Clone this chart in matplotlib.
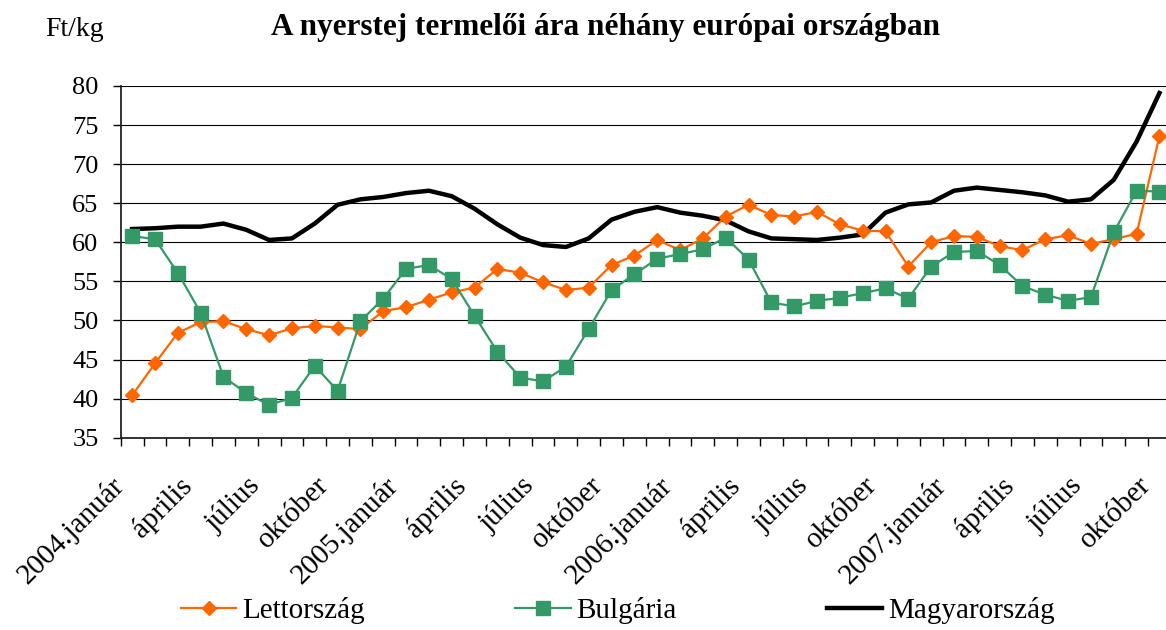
import matplotlib
matplotlib.use("Agg")
import matplotlib.pyplot as plt
from matplotlib.transforms import ScaledTranslation
import numpy as np

# ---- data ----
months = ["2004.január", "", "", "április", "", "", "július", "", "", "október", "", "",
          "2005.január", "", "", "április", "", "", "július", "", "", "október", "", "",
          "2006.január", "", "", "április", "", "", "július", "", "", "október", "", "",
          "2007.január", "", "", "április", "", "", "július", "", "", "október"]

lettorszag = [40.4, 44.5, 48.4, 49.8, 49.9, 48.9, 48.1, 49.0, 49.3, 49.1, 48.9, 51.2,
              51.7, 52.65, 53.6, 54.2, 56.6, 56.1, 54.9, 53.9, 54.2, 57.1, 58.3, 60.3,
              59.0, 60.5, 63.3, 64.8, 63.5, 63.3, 63.9, 62.3, 61.5, 61.4, 56.9, 60.0,
              60.8, 60.7, 59.5, 59.0, 60.4, 60.9, 59.8, 60.4, 61.1, 73.6]

bulgaria = [60.8, 60.4, 56.1, 51.0, 42.8, 40.7, 39.2, 40.1, 44.2, 41.0, 49.9, 52.8,
            56.6, 57.1, 55.3, 50.6, 46.0, 42.7, 42.2, 44.1, 48.9, 53.9, 55.9, 57.9,
            58.5, 59.1, 60.6, 57.8, 52.3, 51.8, 52.5, 52.9, 53.5, 54.1, 52.8, 56.9,
            58.75, 58.9, 57.1, 54.4, 53.3, 52.5, 53.0, 61.3, 66.6, 66.5]

magyarorszag = [61.7, 61.8, 62.0, 62.0, 62.4, 61.6, 60.3, 60.5, 62.4, 64.8, 65.5, 65.8,
                66.3, 66.6, 65.9, 64.3, 62.3, 60.6, 59.65, 59.4, 60.5, 62.9, 63.9, 64.5,
                63.8, 63.4, 62.8, 61.4, 60.5, 60.4, 60.3, 60.6, 61.0, 63.8, 64.85, 65.1,
                66.6, 67.0, 66.7, 66.4, 66.0, 65.2, 65.5, 68.0, 72.9, 79.1]

series_names = ["Lettország", "Bulgária", "Magyarország"]
title = "A nyerstej termelői ára néhány európai országban"
unit = "Ft/kg"
yticks = [35, 40, 45, 50, 55, 60, 65, 70, 75, 80]

# ---- style ----
plt.rcParams['font.family'] = ['Liberation Serif', 'DejaVu Serif']
ORANGE = "#FF6600"
GREEN = "#339966"

W, H = 1166, 630
fig = plt.figure(figsize=(W / 100, H / 100), dpi=100)
left_px, top_px, bottom_px = 120.7, 86.0, 437.7
cat_w = 22.83
n = len(months)
ax = fig.add_axes([left_px / W, (H - bottom_px) / H,
                   n * cat_w / W, (bottom_px - top_px) / H])

x = np.arange(n)
ax.plot(x, magyarorszag, color="black", lw=3.2, zorder=3, label=series_names[2],
        solid_joinstyle="round")
ax.plot(x, lettorszag, color=ORANGE, lw=1.6, marker="D", ms=7.2, mec=ORANGE,
        mfc=ORANGE, zorder=4, label=series_names[0])
ax.plot(x, bulgaria, color=GREEN, lw=1.6, marker="s", ms=10, mec=GREEN,
        mfc=GREEN, zorder=5, label=series_names[1])

ax.set_xlim(-0.5, n - 0.5)
ax.set_ylim(35, 80)
ax.set_yticks(yticks)
ax.yaxis.grid(True, color="black", lw=0.8)
ax.set_axisbelow(True)

for s in ["top", "right"]:
    ax.spines[s].set_visible(False)
for s in ["left", "bottom"]:
    ax.spines[s].set_linewidth(1.3)
    ax.spines[s].set_color("#222222")

ax.tick_params(axis="y", direction="out", length=6, width=1, pad=10, labelsize=19)

# x ticks: minor at category boundaries, major labels every 3rd category
major_pos = [i for i, m in enumerate(months) if m]
ax.set_xticks(major_pos)
ax.set_xticklabels([months[i] for i in major_pos])
ax.set_xticks(np.arange(-0.5, n, 1.0), minor=True)
ax.tick_params(axis="x", which="minor", direction="out", length=5.5, width=1)
ax.tick_params(axis="x", which="major", length=0, pad=25, labelsize=21)
offset = ScaledTranslation(-22 / 100, 0, fig.dpi_scale_trans)
for lab in ax.get_xticklabels():
    lab.set_rotation(45)
    lab.set_ha("right")
    lab.set_va("top")
    lab.set_rotation_mode("anchor")
    lab.set_transform(lab.get_transform() + offset)

fig.text(606 / W, 1 - 28 / H, title, ha="center", va="center",
         fontsize=22.5, fontweight="bold")
fig.text(45 / W, 1 - 30 / H, unit, ha="left", va="center", fontsize=20)

handles, labels = ax.get_legend_handles_labels()
order = [1, 2, 0]
leg = fig.legend([handles[i] for i in order], [labels[i] for i in order],
                 loc="center left", bbox_to_anchor=(181 / W, 1 - 611 / H),
                 ncol=3, frameon=False, fontsize=21, handlelength=1.9,
                 handletextpad=0.2, columnspacing=5.15, borderpad=0,
                 borderaxespad=0)

fig.savefig("out.png", dpi=100)
